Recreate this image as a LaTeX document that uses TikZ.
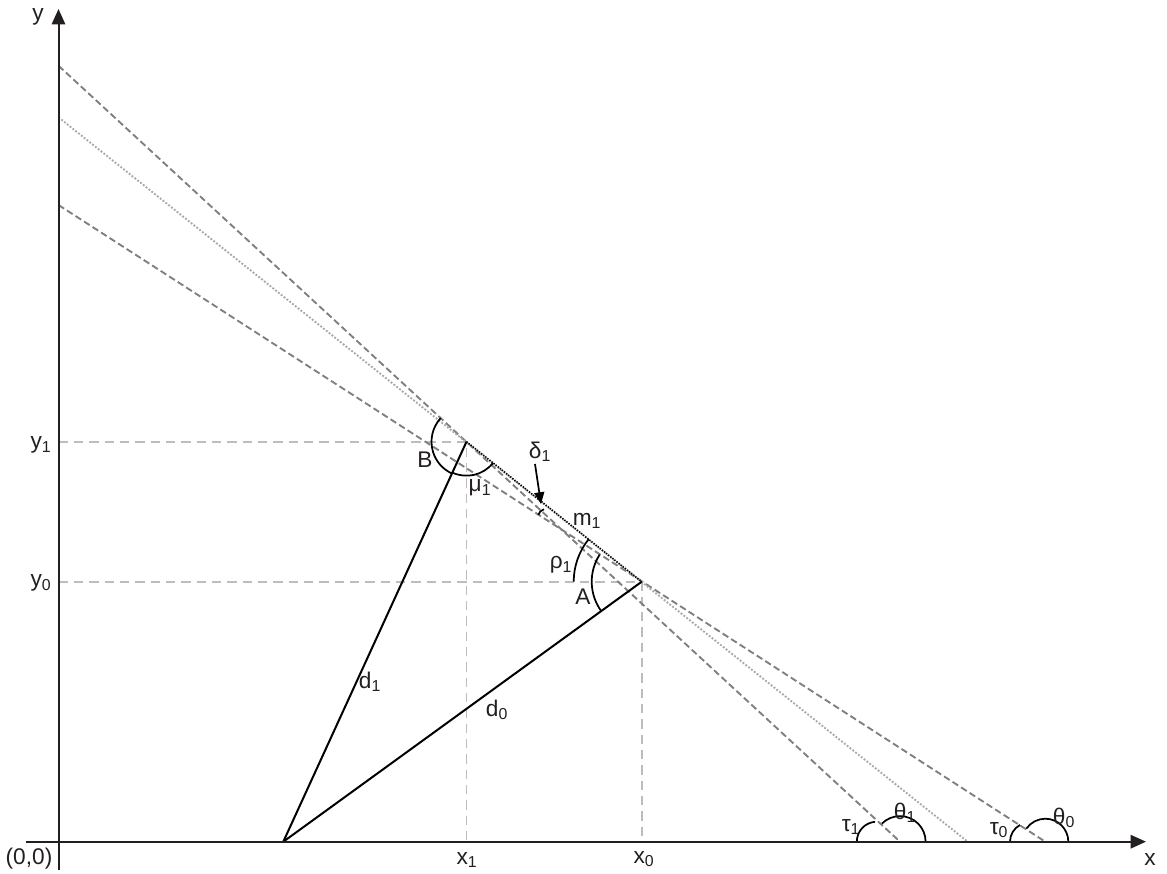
\documentclass[tikz,border=0pt]{standalone}
\usepackage{fontspec}
\setmainfont{Liberation Sans}
\definecolor{ink}      {HTML}{231F20}
\definecolor{tangray}  {HTML}{7F7F7F}
\definecolor{chordgray}{HTML}{A8A8A8}
\definecolor{guidegray}{HTML}{BDBDBD}
\usetikzlibrary{arrows.meta}
\tikzset{
  axis/.style={draw=ink,line width=1.5pt,-{Triangle[length=11.5pt,width=10pt]}},
  tangent/.style={draw=tangray,line width=1.4pt,dash pattern=on 5pt off 2.6pt},
  chordline/.style={draw=chordgray,line width=1.4pt,dash pattern=on 1.4pt off 1.3pt},
  guide/.style={draw=guidegray,line width=1.3pt,dash pattern=on 7pt off 4.5pt},
  dist/.style={draw=black,line width=1.5pt},
  chord/.style={draw=black,line width=1.2pt,dash pattern=on 1pt off 1pt},
  anglearc/.style={draw=black,line width=1.3pt},
  pointer/.style={draw=black,line width=1.3pt,-{Triangle[length=8.8pt,width=7.5pt]}},
  lbl/.style={font=\fontsize{17}{20}\selectfont,text=ink,inner sep=0pt}
}

\begin{document}
\begin{tikzpicture}[x=0.75pt,y=0.75pt]
  \useasboundingbox (0,0) rectangle (1167,-874);

  % points
  \coordinate (O) at (58.5,-841.7);
  \coordinate (P) at (283.3,-841.7);
  \coordinate (B) at (466.5,-441.7);
  \coordinate (A) at (641.7,-581.7);
  \coordinate (tb0) at (58.5,-65.7);
  \coordinate (tb1) at (900,-841.7);
  \coordinate (ch0) at (58.5,-117.3);
  \coordinate (ch1) at (967.7,-841.7);
  \coordinate (ta0) at (58.5,-205);
  \coordinate (ta1) at (1045.3,-841.7);

  % guides
  \draw[guide] (O |- B) -- (B) -- (B |- O);
  \draw[guide] (O |- A) -- (A) -- (A |- O);

  % tangents and chord
  \draw[tangent] (tb0) -- (tb1);
  \draw[tangent] (ta0) -- (ta1);
  \draw[chordline] (ch0) -- (ch1);
  \draw[chord] (B) -- (A);

  % distances
  \draw[dist] (P) -- (B);
  \draw[dist] (P) -- (A);

  % angles
  \draw[anglearc] ([shift={(137.4:35)}]B) arc[start angle=137.4,end angle=245.4,radius=35];
  \draw[anglearc] ([shift={(245.4:34)}]B) arc[start angle=245.4,end angle=321.3,radius=34];
  \draw[anglearc] ([shift={(141.3:68)}]A) arc[start angle=141.3,end angle=180,radius=68];
  \draw[anglearc] ([shift={(147.2:50)}]A) arc[start angle=147.2,end angle=216,radius=50];
  \draw[anglearc] ([shift={(105:8)}]546,-517) arc[start angle=105,end angle=165,radius=8];
  \draw[anglearc] ([shift={(0:25.6)}]tb1) arc[start angle=0,end angle=135,radius=25.6];
  \draw[anglearc] ([shift={(95:20)}]876.8,-841.7) arc[start angle=95,end angle=180,radius=20];
  \draw[anglearc] ([shift={(0:23)}]ta1) arc[start angle=0,end angle=145,radius=23];
  \draw[anglearc] ([shift={(118:19)}]1029,-841.7) arc[start angle=118,end angle=180,radius=19];

  % axes
  \coordinate (xs) at (26,-841.7);
  \coordinate (xe) at (1146,-841.7);
  \coordinate (ys) at (58.5,-870);
  \coordinate (ye) at (58.5,-9);
  \draw[axis] (xs) -- (xe);
  \draw[axis] (ys) -- (ye);

  % delta pointer
  \coordinate (dtail) at (535,-464);
  \coordinate (dtip) at (541,-504);
  \draw[pointer] (dtail) -- (dtip);

  % labels
  \node[lbl] (ylab) at (38,-17) {y};
  \node[lbl] (xlab) at (1150,-860) {x};
  \node[lbl] (olab) at (29,-859) {(0,0)};
  \node[lbl] (y1lab) at (41,-445) {y\textsubscript{1}};
  \node[lbl] (y0lab) at (41,-583) {y\textsubscript{0}};
  \node[lbl] (x1lab) at (467,-860) {x\textsubscript{1}};
  \node[lbl] (x0lab) at (644,-859) {x\textsubscript{0}};
  \node[lbl] (Blab) at (425,-460) {B};
  \node[lbl] (mulab) at (480,-488) {μ\textsubscript{1}};
  \node[lbl] (dellab) at (540,-452) {δ\textsubscript{1}};
  \node[lbl] (mlab) at (587,-521) {m\textsubscript{1}};
  \node[lbl] (rholab) at (561,-565) {ρ\textsubscript{1}};
  \node[lbl] (Alab) at (583,-597) {A};
  \node[lbl] (d1lab) at (370,-682) {d\textsubscript{1}};
  \node[lbl] (d0lab) at (497,-710) {d\textsubscript{0}};
  \node[lbl] (tau1lab) at (851,-827) {τ\textsubscript{1}};
  \node[lbl] (th1lab) at (905,-813) {θ\textsubscript{1}};
  \node[lbl] (tau0lab) at (999,-830) {τ\textsubscript{0}};
  \node[lbl] (th0lab) at (1064,-818) {θ\textsubscript{0}};
\end{tikzpicture}
\end{document}
